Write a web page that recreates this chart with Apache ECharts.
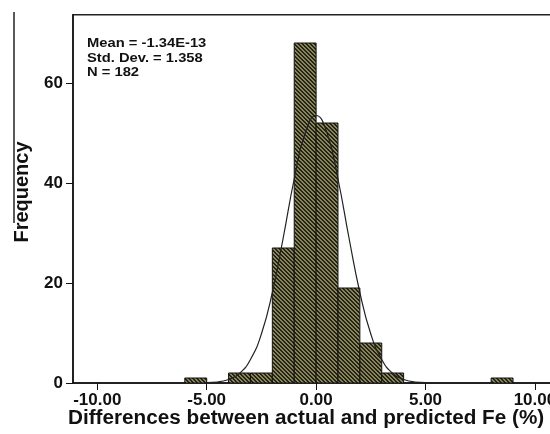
<!DOCTYPE html>
<html>
<head>
<meta charset="utf-8">
<script src="https://cdn.jsdelivr.net/npm/echarts@6/dist/echarts.min.js"></script>
<style>
html,body{margin:0;padding:0;background:#fff;overflow:hidden;width:550px;height:434px;}
#chart{width:562px;height:434px;}
</style>
</head>
<body>
<div id="chart"></div>
<script>
// Histogram bins (lower edge, upper edge) and counts
var binStart = [-6, -4, -3, -2, -1, 0, 1, 2, 3, 8];
var binEnd   = [-5, -3, -2, -1,  0, 1, 2, 3, 4, 9];
var counts   = [ 1,  2,  2, 27, 68, 52, 19, 8, 2, 1];

// Fitted normal curve
var curveX = [-5, -4.5, -4, -3.5, -3, -2.5, -2, -1.5, -1, -0.5, 0, 0.5, 1, 1.5, 2, 2.5, 3, 3.5, 4, 4.5, 5];
var curveY = [0.1, 0.2, 0.7, 1.9, 4.7, 9.8, 18.1, 29.1, 40.8, 50.0, 53.5, 50.0, 40.8, 29.1, 18.1, 9.8, 4.7, 1.9, 0.7, 0.2, 0.1];

var xTicks = [-10, -5, 0, 5, 10];
var yTicks = [0, 20, 40, 60];
var statLines = ['Mean = -1.34E-13', 'Std. Dev. = 1.358', 'N = 182'];

var FONT = '"Liberation Sans", Arial, Helvetica, sans-serif';

function makePattern() {
  var c = document.createElement('canvas');
  c.width = 4; c.height = 4;
  var g = c.getContext('2d');
  g.fillStyle = '#23231a';
  g.fillRect(0, 0, 4, 4);
  g.fillStyle = '#8a8556';
  for (var i = 0; i < 4; i++) {
    g.fillRect(i, i, 1, 1);
    g.fillRect((i + 1) % 4, i, 1, 1);
  }
  return c;
}
var pat = makePattern();

var barData = binStart.map(function (s, i) { return [s, binEnd[i], counts[i]]; });
var curveData = curveX.map(function (x, i) { return [x, curveY[i]]; });

var chart = echarts.init(document.getElementById('chart'), null, {renderer: 'canvas'});
chart.setOption({
  animation: false,
  backgroundColor: '#fff',
  grid: {
    left: 73, top: 14.7, width: 486.2, bottom: 51,
    show: true, borderColor: '#222', borderWidth: 1.5, backgroundColor: 'transparent'
  },
  xAxis: {
    type: 'value', min: -11.11, max: 11.11,
    splitLine: {show: false},
    axisLine: {show: true, onZero: false, lineStyle: {color: '#111', width: 1.5}},
    axisTick: {show: true, length: 7, customValues: xTicks, lineStyle: {color: '#111', width: 1}},
    axisLabel: {
      customValues: xTicks, margin: 9,
      fontFamily: FONT, fontWeight: 'bold', fontSize: 17, color: '#111',
      formatter: function (v) { return v.toFixed(2); }
    }
  },
  yAxis: {
    type: 'value', min: 0, max: 73.66,
    splitLine: {show: false},
    axisLine: {show: true, onZero: false, lineStyle: {color: '#111', width: 1.5}},
    axisTick: {show: true, length: 7, customValues: yTicks, lineStyle: {color: '#111', width: 1}},
    axisLabel: {
      customValues: yTicks, margin: 10,
      fontFamily: FONT, fontWeight: 'bold', fontSize: 17, color: '#111'
    }
  },
  graphic: [
    {type: 'line', shape: {x1: 14, y1: 12, x2: 14, y2: 223}, style: {stroke: '#222', lineWidth: 1.5}},
    {type: 'text', x: 22, y: 192, rotation: Math.PI / 2, z: 10,
     style: {text: 'Frequency', font: 'bold 20px ' + FONT, fill: '#111', align: 'center', verticalAlign: 'middle'}},
    {type: 'text', x: 68, y: 418, scaleX: 1.035, z: 10,
     style: {text: 'Differences between actual and predicted Fe (%)', font: 'bold 20px ' + FONT, fill: '#111', align: 'left', verticalAlign: 'middle'}},
    {type: 'text', x: 87, y: 44, scaleX: 1.18, z: 10,
     style: {text: statLines[0], font: 'bold 12.5px ' + FONT, fill: '#111', verticalAlign: 'middle'}},
    {type: 'text', x: 87, y: 58.5, scaleX: 1.18, z: 10,
     style: {text: statLines[1], font: 'bold 12.5px ' + FONT, fill: '#111', verticalAlign: 'middle'}},
    {type: 'text', x: 87, y: 73, scaleX: 1.18, z: 10,
     style: {text: statLines[2], font: 'bold 12.5px ' + FONT, fill: '#111', verticalAlign: 'middle'}}
  ],
  series: [
    {
      type: 'custom',
      data: barData,
      encode: {x: [0, 1], y: 2},
      clip: true,
      z: 2,
      renderItem: function (params, api) {
        var s = api.value(0), e = api.value(1), v = api.value(2);
        var p0 = api.coord([s, v]);
        var p1 = api.coord([e, 0]);
        return {
          type: 'rect',
          shape: {x: p0[0], y: p0[1], width: p1[0] - p0[0], height: p1[1] - p0[1]},
          style: {fill: {image: pat, repeat: 'repeat'}, stroke: '#111', lineWidth: 1}
        };
      }
    },
    {
      type: 'line',
      data: curveData,
      smooth: 0.5,
      symbol: 'none',
      z: 3,
      lineStyle: {color: '#222', width: 1.2}
    }
  ]
});
</script>
</body>
</html>
